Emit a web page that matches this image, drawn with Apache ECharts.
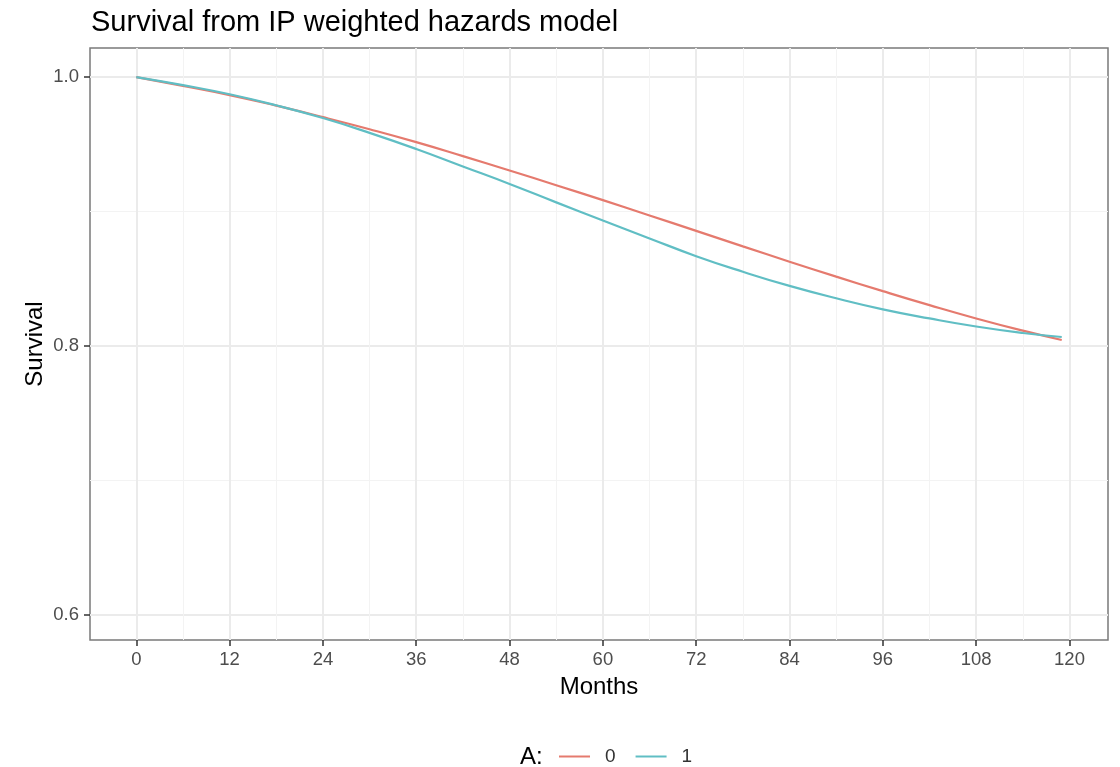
<!DOCTYPE html>
<html>
<head>
<meta charset="utf-8">
<script src="https://cdn.jsdelivr.net/npm/echarts@6/dist/echarts.min.js"></script>
<style>
  html, body { margin: 0; padding: 0; background: #fff; }
  #chart { width: 1120px; height: 767px; }
</style>
</head>
<body>
<div id="chart"></div>
<script>
// values (every 6 months, last point at 119)
const months = [0, 6, 12, 18, 24, 30, 36, 42, 48, 54, 60, 66, 72, 78, 84, 90, 96, 102, 108, 114, 119];
const survA0 = [1.0, 0.9934, 0.9866, 0.9787, 0.9702, 0.9612, 0.9516, 0.9412, 0.9305, 0.9196, 0.9085,
  0.8971, 0.8856, 0.8741, 0.8627, 0.8516, 0.8408, 0.8304, 0.8205, 0.8114, 0.8045];
const survA1 = [1.0, 0.994, 0.9872, 0.979, 0.9695, 0.9585, 0.9465, 0.9335, 0.9205, 0.9068, 0.8933,
  0.880, 0.8668, 0.8552, 0.8447, 0.8355, 0.8273, 0.8205, 0.8145, 0.8097, 0.8067];
const groups = ['0', '1'];
const xMajor = [0, 12, 24, 36, 48, 60, 72, 84, 96, 108, 120];
const xMinor = [6, 18, 30, 42, 54, 66, 78, 90, 102, 114];
const yMajor = [0.6, 0.8, 1.0];
const yMinor = [0.7, 0.9];

const colors = ['#E57A6E', '#60BEC4'];
const chart = echarts.init(document.getElementById('chart'));

const pairs = function (ys) {
  return months.map(function (m, i) { return [m, ys[i]]; });
};

const tickCol = '#333333';
const labelCol = '#4d4d4d';

var option = {
  animation: false,
  title: [{
    text: 'Survival from IP weighted hazards model',
    left: 86, top: 3,
    textStyle: { fontFamily: 'Liberation Sans', fontWeight: 'normal', fontSize: 29, color: '#000' }
  }, {
    text: 'A:',
    left: 515, top: 740,
    textStyle: { fontFamily: 'Liberation Sans', fontWeight: 'normal', fontSize: 24, color: '#000' }
  }],
  legend: {
    data: groups,
    left: 554, top: 742,
    icon: 'rect',
    itemWidth: 31, itemHeight: 2,
    itemGap: 20,
    textStyle: { fontFamily: 'Liberation Sans', fontSize: 19, color: '#333', padding: [0, 0, 0, 10] }
  },
  grid: {
    left: 90, top: 48, right: 12, bottom: 127,
    show: true, borderColor: '#7a7a7a', borderWidth: 1.5
  },
  xAxis: [{
    type: 'value', min: -5.95, max: 124.95, position: 'bottom',
    name: 'Months', nameLocation: 'middle', nameGap: 35,
    nameTextStyle: { fontFamily: 'Liberation Sans', fontSize: 24, color: '#000' },
    axisLine: { show: false, onZero: false },
    axisTick: { show: true, inside: false, customValues: xMajor, length: 6, lineStyle: { color: tickCol, width: 1.5 } },
    axisLabel: { customValues: xMajor, margin: 10, fontFamily: 'Liberation Sans', fontSize: 18.5, color: labelCol },
    splitLine: { show: true, lineStyle: { color: '#ebebeb', width: 2 } }
  }, {
    type: 'value', min: -5.95, max: 124.95, position: 'top',
    axisLine: { show: false, onZero: false },
    axisTick: { show: false, customValues: xMinor },
    axisLabel: { show: false, customValues: xMinor },
    splitLine: { show: true, lineStyle: { color: '#f3f3f3', width: 1 } }
  }],
  yAxis: [{
    type: 'value', min: 0.5814, max: 1.0216, position: 'left',
    name: 'Survival', nameLocation: 'middle', nameGap: 43, nameRotate: 90, nameMoveOverlap: false,
    nameTextStyle: { fontFamily: 'Liberation Sans', fontSize: 24, color: '#000' },
    axisLine: { show: false, onZero: false },
    axisTick: { show: true, inside: false, customValues: yMajor, length: 6, lineStyle: { color: tickCol, width: 1.5 } },
    axisLabel: {
      customValues: yMajor, margin: 11, fontFamily: 'Liberation Sans', fontSize: 18.5, color: labelCol,
      formatter: function (v) { return v.toFixed(1); }
    },
    splitLine: { show: true, lineStyle: { color: '#ebebeb', width: 2 } }
  }, {
    type: 'value', min: 0.5814, max: 1.0216, position: 'right',
    axisLine: { show: false, onZero: false },
    axisTick: { show: false, customValues: yMinor },
    axisLabel: { show: false, customValues: yMinor },
    splitLine: { show: true, lineStyle: { color: '#f3f3f3', width: 1 } }
  }],
  series: [{
    name: groups[0], type: 'line', smooth: true, showSymbol: false,
    data: pairs(survA0),
    itemStyle: { color: colors[0] },
    lineStyle: { color: colors[0], width: 2.2 }
  }, {
    name: groups[1], type: 'line', smooth: true, showSymbol: false,
    data: pairs(survA1),
    itemStyle: { color: colors[1] },
    lineStyle: { color: colors[1], width: 2.2 }
  }]
};

chart.setOption(option);
</script>
</body>
</html>
